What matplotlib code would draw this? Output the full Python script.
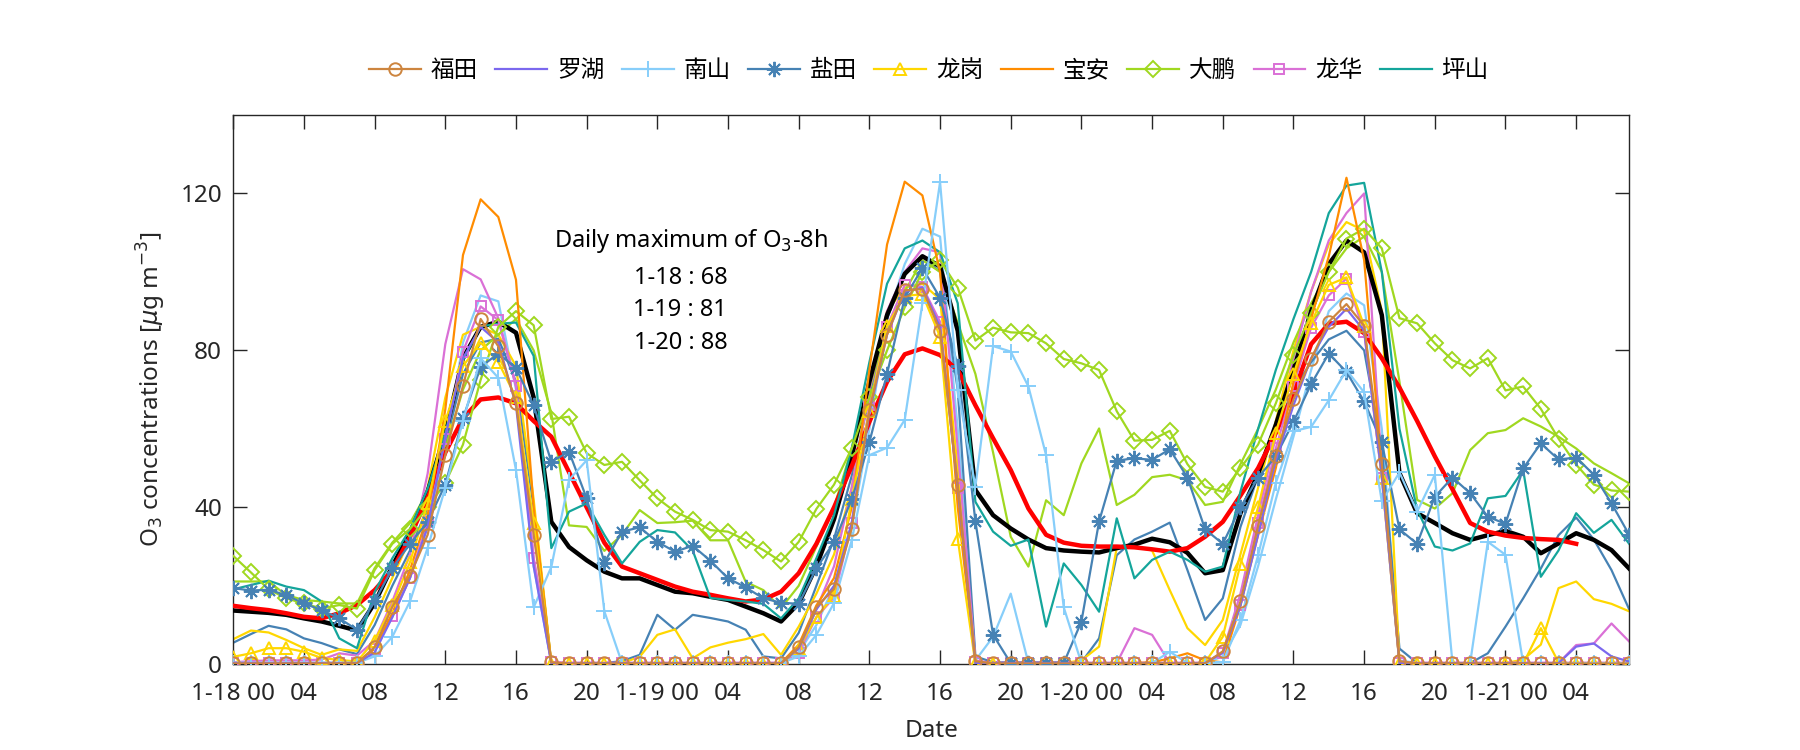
import numpy as np
import matplotlib
matplotlib.use('Agg')
import matplotlib.pyplot as plt

plt.rcParams['font.family'] = ['Noto Sans', 'Noto Sans CJK SC', 'DejaVu Sans']
plt.rcParams['axes.unicode_minus'] = False

# hourly values, 1-18 00:00 .. 1-21 07:00
hours = np.arange(80)
xtick_pos = np.arange(0, 80, 4)
xtick_labels = ['1-18 00', '04', '08', '12', '16', '20',
                '1-19 00', '04', '08', '12', '16', '20',
                '1-20 00', '04', '08', '12', '16', '20',
                '1-21 00', '04']

stations = ['福田', '罗湖', '南山', '盐田', '龙岗', '宝安', '大鹏', '龙华', '坪山']

futian = [0.2, 0.2, 0.2, 0.2, 0.2, 0.2, 0.2, 0.2,
          4.4, 14.6, 22.6, 33, 53.3, 71, 88, 81, 66.5, 33,
          0.5, 0.2, 0.2, 0.2, 0.2, 0.2, 0.2, 0.2, 0.2, 0.2, 0.2, 0.2, 0.2, 0.2,
          4.4, 14.6, 19.2, 34.6, 64.8, 84, 95.3, 95.6, 85, 45.8,
          0.8, 0.2, 0.2, 0.2, 0.2, 0.2, 0.2, 0.2, 0.2, 0.2, 0.2, 0.2, 0.2, 0.2,
          3.3, 16, 35.3, 53.2, 67.5, 77.8, 87.3, 91.8, 86.3, 51,
          0.8, 0.2, 0.2, 0.2, 0.2, 0.2, 0.2, 0.2, 0.2, 0.2, 0.2, 0.2, 0.2, 0.2]

luohu = [0.3, 0.3, 0.3, 0.3, 0.3, 0.3, 0.3, 0.3,
         3, 12, 22, 35, 58, 78, 86, 82, 66, 25,
         0.3, 0.3, 0.3, 0.3, 0.3, 0.3, 0.3, 0.3, 0.3, 0.3, 0.3, 0.3, 0.3, 0.3,
         4, 14, 20, 36, 64, 84, 95, 96, 86, 45,
         0.3, 0.3, 0.3, 0.3, 0.3, 0.3, 0.3, 0.3, 0.3, 0.3, 0.3, 0.3, 0.3, 0.3,
         3, 15, 33, 52, 66, 78, 86, 90.6, 85, 48,
         0.3, 0.3, 0.3, 0.3, 0.3, 0.3, 0.3, 0.3, 0.3, 0.3, 4.5, 5.3, 2, 0.7]

nanshan = [0.4, 0.4, 0.4, 0.4, 0.4, 0.4, 0.4, 0.4,
           2, 7, 16, 29.7, 45, 62, 78, 73, 49.5, 14.5,
           24.8, 47, 52, 13.5, 0.3, 0.3, 0.3, 0.3, 0.3, 0.3, 0.3, 0.3, 0.3, 0.3,
           2, 7.5, 15.6, 31.6, 53.3, 55.2, 62.3, 92, 122.9, 70,
           45.3, 81.1, 79.7, 70.8, 53.3, 14.5, 0.3, 0.3, 0.3, 0.3, 0.3, 3.2, 0.3, 0.3,
           0.5, 11.3, 27.8, 46.2, 59.4, 60.5, 67.3, 75, 69.3, 41.5,
           48.9, 38.9, 48.3, 0.3, 0.3, 31.2, 27.9, 0.3, 0.3, 0.3, 0.3, 0.3, 0.3, 0.3]

yantian = [19.4, 18.8, 19, 17.6, 15.5, 13.8, 11.7, 8.8,
           16, 24.5, 30.7, 36.3, 45.8, 62.7, 75.8, 79.2, 75.5, 66,
           51.6, 54.2, 42.3, 25.9, 33.8, 34.9, 31.2, 28.7, 30.2, 26.4, 21.9, 19.6, 16.8, 15.7,
           15.4, 24.5, 31.1, 42, 56.6, 74, 93.4, 101, 93.4, 76,
           36.4, 7.5, 0.3, 0.3, 0.3, 0.3, 10.9, 36.4, 51.9, 52.5, 52.1, 54.8, 47.6, 34.4,
           30.7, 40, 47.6, 53, 61.8, 71.4, 79.2, 74.5, 67, 56.6,
           34.4, 30.7, 42.7, 47.6, 43.6, 37.6, 35.8, 49.9, 56.3, 52.2, 52.7, 48.3, 41, 33]

longgang = [1.9, 2.8, 4.1, 4.1, 3.2, 1.6, 1.1, 0.7,
            6, 15, 26, 41, 62, 76, 82, 77, 68, 36,
            0.1, 0.1, 0.1, 0.1, 0.1, 0.1, 0.1, 0.1, 0.1, 0.1, 0.1, 0.1, 0.1, 0.1,
            4, 12, 17.5, 42, 64.6, 86.3, 93.9, 94.3, 83.5, 32,
            0.1, 0.1, 0.1, 0.1, 0.1, 0.1, 0.1, 0.1, 0.1, 0.1, 0.1, 0.1, 0.1, 0.5,
            7, 25.5, 40, 59, 74, 87, 96.7, 98.6, 86.3, 47.6,
            0.1, 0.1, 0.1, 0.1, 0.1, 0.1, 0.1, 0.1, 9.2, 0.5, 0.1, 0.1, 0.1, 0.1]

baoan = [0.3, 0.3, 0.3, 0.3, 0.3, 0.3, 0.3, 0.3,
         4, 13, 24, 38, 65, 104.3, 118.5, 114, 98, 40,
         0.3, 0.3, 0.3, 0.3, 0.3, 0.3, 0.3, 0.3, 0.3, 0.3, 0.3, 0.3, 0.3, 0.3,
         5, 15, 22, 40, 75, 107, 123, 119.5, 100, 40,
         0.3, 0.3, 0.3, 0.3, 0.3, 0.3, 0.3, 0.3, 0.3, 0.3, 0.5, 1.5, 2.8, 1,
         0.5, 15, 33, 50, 72, 88, 104, 124, 103, 50,
         0.3, 0.3, 0.3, 0.3, 0.3, 0.3, 0.3, 0.3, 0.3, 0.3, 0.3, 0.3, 0.3, 0.3]

dapeng = [27.6, 23.4, 19.1, 16.8, 15.5, 14.2, 15.1, 14.2,
          24, 30.7, 34.5, 40, 46.2, 56, 72.5, 86, 90, 86.4,
          62.5, 63.1, 53.8, 50.8, 51.6, 46.9, 42.3, 38.9, 36.8, 34.2, 33.8, 31.6, 29.1, 26.2,
          31.2, 39.6, 45.8, 55, 68, 80, 91, 100, 103, 96,
          82.5, 85.8, 84.6, 84.4, 81.8, 77.8, 76.7, 75, 64.5, 57, 57.2, 59.5, 51, 45.2,
          44, 50, 56, 66.5, 78.8, 89.5, 100, 108.5, 111, 106,
          88.2, 86.9, 81.8, 77.5, 75.4, 78, 69.8, 70.8, 65.1, 57.5, 50.9, 45.8, 44.3, 44]

longhua = [0.4, 0.4, 0.4, 0.4, 0.4, 0.4, 0.4, 0.4,
           4, 12.3, 22, 36.3, 57.5, 79.7, 91.2, 87.7, 70.8, 27,
           0.5, 0.4, 0.4, 0.4, 0.4, 0.4, 0.4, 0.4, 0.4, 0.4, 0.4, 0.4, 0.4, 0.4,
           3, 12, 17, 36, 66, 86, 96.7, 96.2, 87.3, 44.8,
           0.5, 0.4, 0.4, 0.4, 0.4, 0.4, 0.4, 0.4, 0.4, 0.4, 0.4, 0.4, 0.4, 0.4,
           2.8, 15, 36, 55, 71, 85.8, 94, 98.3, 84.7, 47.6,
           0.4, 0.4, 0.4, 0.4, 0.4, 0.4, 0.4, 0.4, 0.4, 0.4, 0.4, 0.4, 0.4, 0.4]

pingshan = [19.1, 20.2, 21.3, 19.8, 18.9, 16.0, 6.6, 4.1,
            18.4, 27, 34.4, 44.8, 59, 77.4, 86.1, 86.8, 87.1, 78.6,
            29.6, 38.9, 41, 33, 25.7, 31.2, 34.2, 33.6, 29, 16.9, 16.4, 16.0, 15.4, 11.7,
            16.8, 27, 38, 55, 77, 97, 106, 108, 105, 92,
            41.4, 33.8, 30.2, 31.8, 9.6, 25.7, 20.2, 13.4, 37.2, 21.9, 26.6, 28.7, 26.6, 23.6,
            24.9, 44, 60, 75, 88, 100, 115, 122, 122.7, 100,
            60, 39.4, 30, 29, 30.8, 42.3, 42.9, 49.5, 22.3, 29, 38.5, 33.5, 36.8, 30.7]

# second set of lines, same colours, no markers, not in legend
nanshan_b = [0.3, 0.3, 0.3, 0.3, 0.3, 0.3, 0.3, 0.3,
             4, 12, 22, 35, 55, 82, 94, 92.5, 70, 25,
             0.3, 0.3, 0.3, 0.3, 0.3, 0.3, 0.3, 0.3, 0.3, 0.3, 0.3, 0.3, 0.3, 0.3,
             3, 10, 20, 35, 60, 88, 102, 111, 109, 60,
             1, 7, 18, 0.3, 0.3, 0.3, 0.3, 0.3, 0.3, 0.3, 0.3, 0.3, 0.3, 0.3,
             2, 10, 25, 42, 58, 75, 90, 94.5, 91.5, 60,
             1, 0.3, 0.3, 0.3, 0.3, 0.3, 0.3, 0.3, 0.3, 0.3, 0.3, 0.3, 0.3, 0.3]

yantian_b = [5.5, 7.7, 9.8, 8.9, 6.6, 5.4, 3.8, 2.6,
             10, 20, 29, 40, 56, 74, 82, 83, 72, 40,
             0.3, 0.3, 0.3, 0.3, 0.8, 2.4, 12.6, 8.8, 12.6, 11.8, 10.9, 8.8, 2.0, 1.5,
             8, 20, 32, 48, 68, 88, 100, 104, 100, 70,
             2, 0.5, 0.5, 0.5, 0.5, 0.5, 0.5, 6.6, 27.8, 31.8, 33.8, 36.1, 24, 11.3,
             16.8, 35, 48, 60, 70, 77, 82.8, 85, 80, 55,
             4, 0.3, 0.3, 0.3, 0.3, 2.8, 9.6, 16.8, 24.4, 32.9, 37.4, 31.8, 24, 14]

longgang_b = [6.4, 8.6, 8.1, 6.2, 4.1, 2.4, 3.8, 3.4,
              12, 22, 32, 45, 68, 84, 86, 84, 76, 42,
              0.3, 0.3, 0.3, 0.3, 0.3, 1.9, 7.5, 8.9, 1.5, 4.3, 5.5, 6.4, 7.7, 2.4,
              9.6, 18, 28, 45, 70, 90, 96, 97, 93, 50,
              0.5, 0.3, 0.3, 0.3, 0.3, 0.3, 1, 4.5, 29.8, 30, 29, 18.9, 9.2, 4.9,
              11.3, 28, 45, 62, 80, 95, 107, 112.7, 110.5, 90,
              0.5, 0.3, 0.3, 0.3, 0.3, 0.3, 0.3, 1.2, 5, 19.4, 21.1, 16.6, 15.4, 13.5]

dapeng_b = [21.1, 21.1, 21.1, 17.6, 16.4, 16, 15.5, 15.5,
            24.5, 31, 36, 44, 55, 70, 80, 84, 88, 80,
            64, 35.4, 35, 28.9, 33, 39.3, 36, 36.2, 36.6, 31.6, 31.6, 21, 18.9, 14.3,
            20, 30, 40, 55, 70, 85, 95, 103, 100, 87,
            74, 54, 32.5, 24.9, 41.8, 38, 51.2, 60.1, 40.6, 43.2, 47.7, 48.3, 46.9, 40.6,
            41.4, 51, 60, 70, 82, 92, 100, 106, 109, 100,
            72, 41.9, 39.7, 43.6, 54.6, 58.9, 59.7, 62.7, 60.6, 58, 55, 51.2, 48.7, 46.1]

longhua_b = [0.5, 0.8, 1, 1, 1, 1.2, 2.8, 2.2,
             6, 16, 28, 48.6, 81.6, 100.7, 98.1, 88.2, 71.2, 27,
             0.5, 0.3, 0.3, 0.3, 0.3, 0.3, 0.3, 0.3, 0.3, 0.3, 0.3, 0.3, 0.3, 0.3,
             4, 14, 25, 45, 70, 90, 100, 106, 105, 55,
             1, 0.3, 0.3, 0.3, 0.3, 0.3, 0.3, 0.3, 0.3, 9.2, 7.5, 0.3, 0.3, 0.3,
             3, 18, 38, 58, 78, 95, 108, 115, 120, 50,
             0.5, 0.3, 0.3, 0.3, 0.3, 0.3, 0.3, 0.3, 0.3, 0.3, 4.9, 5.3, 10.4, 5.8]

city_mean = [13.7, 13.4, 13.1, 12.6, 11.7, 10.9, 9.8, 8.6,
             15.6, 25, 33.5, 44, 59, 78, 86, 87.3, 84.5, 68,
             36.3, 29.9, 26.5, 23.6, 21.9, 21.9, 20.2, 18.5, 18.1, 17.2, 16.4, 14.7, 13.0, 10.9,
             15.5, 25, 37, 53, 72, 89, 99.5, 104, 101.4, 85,
             44.4, 38, 34.6, 31.8, 29.6, 29, 28.7, 28.5, 29.6, 30.5, 32, 31.1, 28.4, 23.2,
             24, 38.5, 48.6, 61, 75, 90, 102, 108, 105, 89,
             48.7, 38.5, 36, 33.4, 31.7, 32.9, 34, 32.5, 28.3, 30.8, 33.4, 31.7, 29.1, 24.4]

mean_8h = [14.9, 14.3, 13.8, 13, 12.1, 11.7, 13, 15.1,
           18.9, 24, 32.5, 42.5, 54, 62.7, 67.5, 68, 66.5, 62,
           58, 49, 40, 31, 24.9, 23.2, 21.5, 19.8, 18.5, 17.7, 16.8, 16, 16.5, 18.5,
           23.2, 30.7, 40, 50.5, 61.8, 72, 79, 80.5, 78.8, 75,
           66, 57.6, 49.5, 39.7, 33, 31, 30.2, 30, 30, 29.8, 29.3, 28.7, 29.6, 32.5,
           36.3, 43, 50, 59, 69, 81.6, 86.8, 87.3, 84.4, 78,
           70.5, 62, 53, 44.6, 36, 33.8, 32.8, 32.2, 31.9, 31.7, 30.7, np.nan, np.nan, np.nan]

daily_max = [('1-18', 68), ('1-19', 81), ('1-20', 88)]

series = [futian, luohu, nanshan, yantian, longgang, baoan, dapeng, longhua, pingshan]
colors = ['#CD853F', '#7B68EE', '#87CEFA', '#4682B4', '#FFD700',
          '#FF8C00', '#A0D820', '#DA70D6', '#14A59B']
asterisk = (8, 2, 0)
markers = ['o', None, '+', asterisk, '^', None, 'D', 's', None]
msizes = [9, 0, 11, 11, 9, 0, 8.5, 6.5, 0]

fig = plt.figure(figsize=(18, 7.5), dpi=100)
ax = fig.add_axes([0.1296, 0.1143, 0.7755, 0.7324])

# plain lines first
extras = [(nanshan_b, colors[2]), (yantian_b, colors[3]), (longgang_b, colors[4]),
          (dapeng_b, colors[6]), (longhua_b, colors[7])]
for vals, c in extras:
    ax.plot(hours, vals, color=c, lw=1.6, zorder=2)

ax.plot(hours, city_mean, color='black', lw=3.2, zorder=3)
ax.plot(hours, mean_8h, color='red', lw=3.2, zorder=3.1)

handles = [None] * len(stations)
for i in reversed(range(len(stations))):
    ln, = ax.plot(hours, series[i], color=colors[i], lw=1.6,
                  marker=markers[i], ms=msizes[i], mfc='none', mew=1.4,
                  label=stations[i], zorder=4 + (len(stations) - i) * 0.01)
    handles[i] = ln

ax.set_xlim(0, 79)
ax.set_ylim(0, 140)
ax.set_xticks(xtick_pos)
ax.set_xticklabels(xtick_labels)
ax.set_yticks([0, 40, 80, 120])
ax.tick_params(direction='in', length=10, width=1, top=True, right=True,
               labelsize=17.5, colors='#262626')
ax.tick_params(axis='x', pad=13)
ax.tick_params(axis='y', pad=8)
for sp in ax.spines.values():
    sp.set_color('#262626')
    sp.set_linewidth(1)

ax.set_xlabel('Date', fontsize=17.5, color='#262626', labelpad=9)
ax.set_ylabel('O$_3$ concentrations [$\\mu$g m$^{-3}$]', fontsize=17.5,
              color='#262626', labelpad=9)

ax.text(25.9, 108, 'Daily maximum of O$_3$-8h', fontsize=17, ha='center', va='center')
for k, (day, v) in enumerate(daily_max):
    ax.text(25.3, 98.4 - 8.2 * k, '%s : %d' % (day, v), fontsize=17,
            ha='center', va='center')

fig.legend(handles=handles, loc='center', bbox_to_anchor=(0.516, 0.905), ncol=9,
           frameon=False, fontsize=17, handlelength=2.2, handletextpad=0.4,
           columnspacing=0.75)

fig.savefig('out.png', dpi=100)
